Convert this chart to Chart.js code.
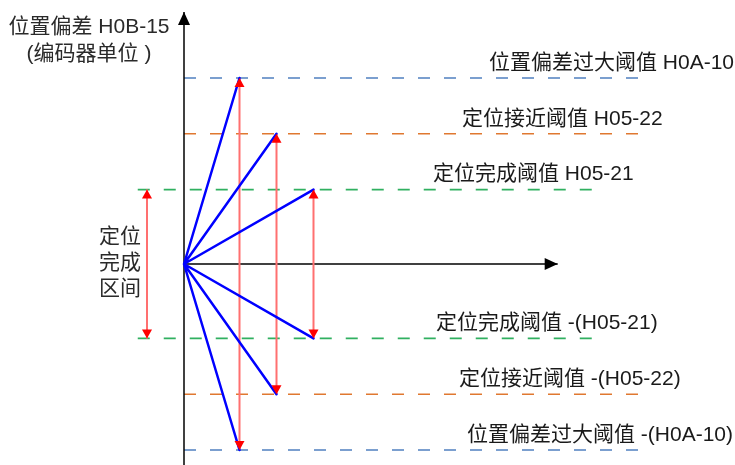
<!DOCTYPE html>
<html><head><meta charset="utf-8">
<script src="https://cdn.jsdelivr.net/npm/chart.js@4/dist/chart.umd.min.js"></script>
<style>html,body{margin:0;padding:0;background:#fff}#wrap{width:735px;height:465px}</style>
</head><body><div id="wrap"><canvas id="c" width="735" height="465"></canvas></div>
<script>
// ---- data ----
const thresholdValues = [100, 70, 40];            // H0A-10, H05-22, H05-21 (encoder units)
const peakTimes = [1.5, 2.5, 3.5];                // time at which each peak is reached
const upperLabels = ["位置偏差过大阈值 H0A-10", "定位接近阈值 H05-22", "定位完成阈值 H05-21"];
const lowerLabels = ["位置偏差过大阈值 -(H0A-10)", "定位接近阈值 -(H05-22)", "定位完成阈值 -(H05-21)"];
const axisTitle = ["位置偏差 H0B-15", "(编码器单位 )"];
const bandLabel = ["定位", "完成", "区间"];
const bandTime = -1;

// ---- styles / layout ----
const dashColors = ['#5080c0', '#e07830', '#30b060'];
const dashStart = [0, 0, -1.25];
const dashEnd = [12.4, 12.4, 11.2];
const X_MIN = -184 / 37, X_MAX = 551 / 37;
const Y_MAX = 264 / 1.86, Y_MIN = -(465 - 264) / 1.86;
const X_TIP = 10.1, Y_TIP = 135.5;

const datasets = [];
thresholdValues.forEach((v, i) => {
  [1, -1].forEach(s => {
    datasets.push({
      data: [{x: dashStart[i], y: s * v}, {x: dashEnd[i], y: s * v}],
      borderColor: dashColors[i], borderWidth: 1.6, borderDash: [12, 14],
      pointRadius: 0, showLine: true, order: 6
    });
  });
});
// axes
datasets.push({data: [{x: 0, y: Y_MIN}, {x: 0, y: Y_TIP}], borderColor: '#000', borderWidth: 1.5, pointRadius: 0, showLine: true, order: 5});
datasets.push({data: [{x: 0, y: 0}, {x: X_TIP, y: 0}], borderColor: '#000', borderWidth: 1.5, pointRadius: 0, showLine: true, order: 5});
// red arrows
thresholdValues.forEach((v, i) => {
  datasets.push({data: [{x: peakTimes[i], y: v}, {x: peakTimes[i], y: -v}], borderColor: '#ff7070', borderWidth: 2, pointRadius: 0, showLine: true, order: 3});
});
datasets.push({data: [{x: bandTime, y: thresholdValues[2]}, {x: bandTime, y: -thresholdValues[2]}], borderColor: '#ff7070', borderWidth: 2, pointRadius: 0, showLine: true, order: 3});
// blue trajectories
const traj = [{x: 0, y: 0}];
thresholdValues.forEach((v, i) => { traj.push({x: peakTimes[i], y: v}); traj.push({x: 0, y: 0}); });
thresholdValues.slice().reverse().forEach((v, k) => { const i = 2 - k; traj.push({x: peakTimes[i], y: -v}); traj.push({x: 0, y: 0}); });
datasets.push({data: traj, borderColor: '#0000ff', borderWidth: 2.5, borderJoinStyle: 'round', pointRadius: 0, showLine: true, tension: 0, order: 1});

function tri(ctx, x, y, dir, len, hw, color) {
  ctx.save(); ctx.fillStyle = color; ctx.beginPath();
  if (dir === 'up') { ctx.moveTo(x, y); ctx.lineTo(x - hw, y + len); ctx.lineTo(x + hw, y + len); }
  else if (dir === 'down') { ctx.moveTo(x, y); ctx.lineTo(x - hw, y - len); ctx.lineTo(x + hw, y - len); }
  else { ctx.moveTo(x, y); ctx.lineTo(x - len, y - hw); ctx.lineTo(x - len, y + hw); }
  ctx.closePath(); ctx.fill(); ctx.restore();
}

const decor = {
  id: 'decor',
  afterDatasetsDraw(chart) {
    const ctx = chart.ctx, xs = chart.scales.x, ys = chart.scales.y;
    const px = v => xs.getPixelForValue(v), py = v => ys.getPixelForValue(v);
    // arrowheads
    thresholdValues.forEach((v, i) => {
      tri(ctx, px(peakTimes[i]), py(v), 'up', 9, 5, '#ff0000');
      tri(ctx, px(peakTimes[i]), py(-v), 'down', 9, 5, '#ff0000');
    });
    tri(ctx, px(bandTime), py(thresholdValues[2]), 'up', 9, 5, '#ff0000');
    tri(ctx, px(bandTime), py(-thresholdValues[2]), 'down', 9, 5, '#ff0000');
    tri(ctx, px(0), py(Y_TIP), 'up', 13, 6, '#000');
    tri(ctx, px(X_TIP), py(0), 'right', 13, 6, '#000');
    // texts
    ctx.save();
    ctx.font = '21px "Liberation Sans", "Noto Sans CJK SC", sans-serif';
    ctx.textBaseline = 'middle';
    ctx.fillStyle = '#1a1a1a';
    const upX = [489, 462, 433], loX = [467, 459, 436];
    thresholdValues.forEach((v, i) => {
      ctx.textAlign = 'left';
      ctx.fillText(upperLabels[i], upX[i], py(v) - 15);
      ctx.fillText(lowerLabels[i], loX[i], py(-v) - 15);
    });
    ctx.textAlign = 'center';
    ctx.fillStyle = '#2a2a2a';
    ctx.fillText(axisTitle[0], 89, 27);
    ctx.fillText(axisTitle[1], 89, 54);
    bandLabel.forEach((t, k) => ctx.fillText(t, 120, 237 + k * 26));
    ctx.restore();
  }
};

new Chart(document.getElementById('c'), {
  type: 'scatter',
  data: {datasets},
  options: {
    responsive: false, animation: false, devicePixelRatio: 1,
    layout: {padding: 0},
    plugins: {legend: {display: false}, tooltip: {enabled: false}},
    scales: {
      x: {type: 'linear', display: false, min: X_MIN, max: X_MAX},
      y: {type: 'linear', display: false, min: Y_MIN, max: Y_MAX}
    }
  },
  plugins: [decor]
});
</script></body></html>
